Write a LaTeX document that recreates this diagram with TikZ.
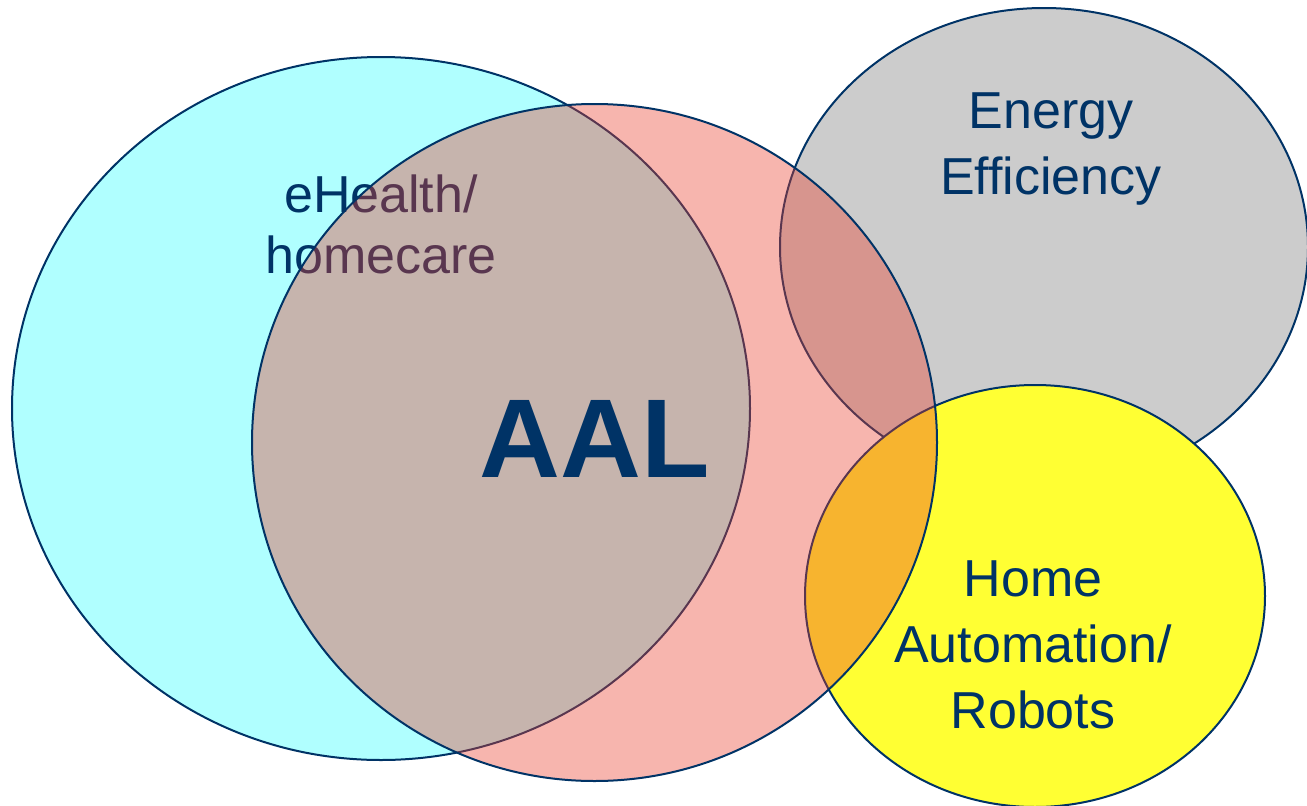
\documentclass[tikz,border=0pt]{standalone}
\usepackage{fontspec}
\setmainfont{Liberation Sans}
\definecolor{navy}{RGB}{0,51,102}
\definecolor{cyanfill}{RGB}{176,255,255}
\definecolor{grayfill}{RGB}{204,204,204}
\definecolor{yellowfill}{RGB}{255,255,51}
\definecolor{pinkfill}{RGB}{234,60,42}
\tikzset{
  blob/.style={draw=navy, line width=2pt},
  lbl/.style={text=navy, inner sep=0pt, align=center, anchor=north},
}
\begin{document}
\begin{tikzpicture}[x=1pt,y=-1pt]
\useasboundingbox (0,0) rectangle (1307,806);
\clip (0,0) rectangle (1307,806);
% cyan ellipse
\path[blob, fill=cyanfill] (381,408.5) ellipse [x radius=369, y radius=351.5];
\node[lbl, font=\fontsize{52}{61}\selectfont] (ehealth) at (381,175) {eHealth/\\homecare};
% gray ellipse
\path[blob, fill=grayfill] (1044,247) ellipse [x radius=264, y radius=239];
\node[lbl, font=\fontsize{52}{66}\selectfont] (energy) at (1051,93) {Energy\\Efficiency};
% yellow circle
\path[blob, fill=yellowfill] (1035,596) ellipse [x radius=230, y radius=211];
\node[lbl, font=\fontsize{52}{66}\selectfont] (home) at (1033,561) {Home\\Automation/\\Robots};
% pink circle (translucent)
\path[draw=navy, line width=2pt, fill=pinkfill, fill opacity=0.38] (594.5,442.5) ellipse [x radius=342.5, y radius=338.5];
\node[lbl, font=\bfseries\fontsize{112}{120}\selectfont] (aal) at (595,400) {AAL};
\end{tikzpicture}
\end{document}
